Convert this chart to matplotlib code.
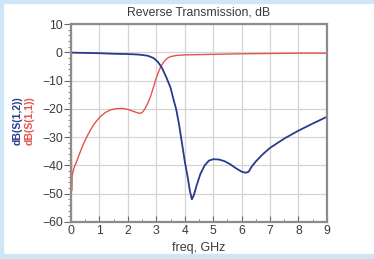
import numpy as np
import matplotlib
matplotlib.use("Agg")
import matplotlib.pyplot as plt
from matplotlib.patches import Rectangle
from matplotlib.ticker import MultipleLocator

plt.rcParams['font.family'] = ['Liberation Sans', 'DejaVu Sans']

# S(1,2) - blue trace
freq_s12 = [0, 0.5, 1, 1.5, 2, 2.4, 2.7, 2.9, 3.05, 3.2, 3.35, 3.5, 3.6, 3.7, 3.8, 3.9,
            4.0, 4.1, 4.18, 4.25, 4.32, 4.42, 4.55, 4.7, 4.85, 5.0, 5.2, 5.4, 5.6, 5.8,
            6.0, 6.15, 6.25, 6.35, 6.5, 6.75, 7.0, 7.5, 8.0, 8.5, 9.0]
db_s12 = [-0.1, -0.2, -0.3, -0.5, -0.6, -0.8, -1.2, -2.0, -3.3, -5.5, -8.8, -12.5, -16.5,
          -20.2, -25.5, -32, -38.5, -44, -49, -52, -50.5, -47, -43, -40, -38.3, -37.8,
          -37.9, -38.5, -39.6, -41, -42.2, -42.6, -42.2, -40.5, -38.6, -36, -33.8, -30.5,
          -27.7, -25.2, -22.8]

# S(1,1) - red trace
freq_s11 = [0.0, 0.01, 0.02, 0.03, 0.05, 0.1, 0.2, 0.3, 0.45, 0.6, 0.8, 1.0, 1.2, 1.4,
            1.6, 1.8, 2.0, 2.2, 2.4, 2.5, 2.6, 2.7, 2.8, 2.9, 3.0, 3.1, 3.2, 3.3, 3.4,
            3.5, 3.7, 4.0, 5.0, 6.0, 7.0, 8.0, 9.0]
db_s11 = [-48, -34, -49, -44, -43, -41, -38.5, -35.8, -32, -29, -25.5, -23, -21.3, -20.3,
          -19.9, -19.8, -20.2, -20.9, -21.6, -21.3, -20, -18, -15.5, -12.3, -9, -6.3,
          -4.3, -2.9, -2.0, -1.5, -1.1, -0.9, -0.7, -0.5, -0.4, -0.3, -0.3]

x_ticks = list(range(0, 10))
y_ticks = list(range(-60, 11, 10))

blue = "#2a3a8c"
red = "#e5534b"
frame = "#cfe6f6"

fig = plt.figure(figsize=(3.74, 2.59), dpi=100)
fig.set_facecolor("white")

# light blue border round the picture
for r in [(0, 0, 0.009, 1), (0, 0.988, 1, 0.012), (0, 0, 1, 0.02)]:
    fig.patches.append(Rectangle(r[:2], r[2], r[3], transform=fig.transFigure,
                                 color=frame, zorder=0))

ax = fig.add_axes([0.19, 0.143, 0.684, 0.764])
ax.plot(freq_s11, db_s11, color=red, lw=1.0)
ax.plot(freq_s12, db_s12, color=blue, lw=1.3)

ax.set_xlim(0, 9)
ax.set_ylim(-60, 10)
ax.set_xticks(x_ticks)
ax.set_yticks(y_ticks)
ax.xaxis.set_minor_locator(MultipleLocator(0.5))
ax.yaxis.set_minor_locator(MultipleLocator(2))
ax.grid(True, which="major", color="#d4d4d4", lw=0.9)
ax.set_axisbelow(True)

for s in ax.spines.values():
    s.set_color("#8c8c8c")
    s.set_linewidth(1.6)

ax.tick_params(axis="both", which="major", labelsize=8.8, color="#6a6a6a", labelcolor="#3a3a3a")
ax.tick_params(axis="x", which="both", direction="in", pad=2)
ax.tick_params(axis="y", which="both", direction="out", pad=1)
ax.tick_params(axis="x", which="major", length=4)
ax.tick_params(axis="x", which="minor", length=2.5, color="#6a6a6a")
ax.tick_params(axis="y", which="major", length=5)
ax.tick_params(axis="y", which="minor", length=2.5, color="#6a6a6a")

ax.set_title("Reverse Transmission, dB", fontsize=8.8, color="#3a3a3a", pad=6)
ax.set_xlabel("freq, GHz", fontsize=9, color="#3a3a3a", labelpad=4)

fig.text(0.048, 0.535, "dB(S(1,2))", rotation=90, color=blue, fontsize=7.5,
         fontweight="bold", ha="center", va="center")
fig.text(0.08, 0.535, "dB(S(1,1))", rotation=90, color=red, fontsize=7.5,
         fontweight="bold", ha="center", va="center")

fig.savefig("out.png", dpi=100, facecolor=fig.get_facecolor())
